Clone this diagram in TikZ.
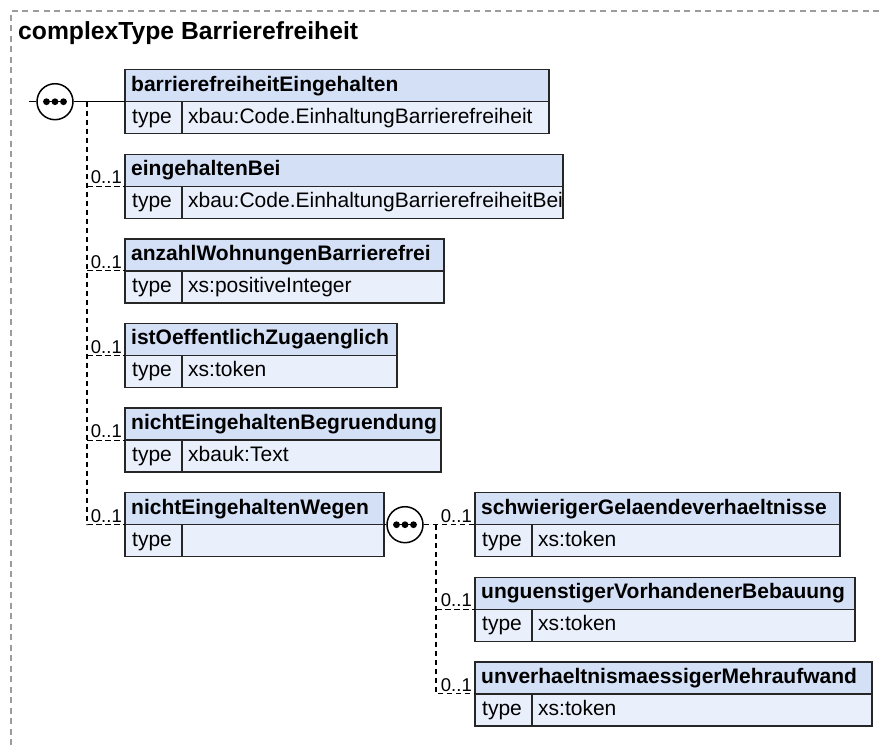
\documentclass[tikz,border=0pt]{standalone}
\usepackage{fontspec}
\setmainfont{Liberation Sans}
\definecolor{hdrblue}{HTML}{D4E0F6}
\definecolor{typeblue}{HTML}{EAF0FB}
\definecolor{edgecol}{HTML}{262626}
\definecolor{framegray}{HTML}{9C9C9C}
\newcommand{\elembox}[6]{%
  \node[hdrbox, minimum width=#4pt] (#1) at (#2,#3) {};
  \node[hdrtext] (#1-h) at ([xshift=6pt]#1.west) {#5};
  \node[typebox, minimum width=57pt] (#1-k) at (#1.south west) {};
  \node[valtext] (#1-kt) at ([xshift=7pt]#1-k.west) {type};
  \node[typebox, minimum width=#4pt-57pt] (#1-v) at (#1-k.north east) {};
  \node[valtext] (#1-vt) at ([xshift=6pt]#1-v.west) {#6};
}
\newcommand{\seqdots}[1]{%
  \draw[line width=1.3pt] ([xshift=-12pt]#1.center) -- ([xshift=12pt]#1.center);
  \foreach \dx in {-8.5,0,8.5} \fill ([xshift=\dx pt]#1.center) circle (3.4pt);
}
\begin{document}
\begin{tikzpicture}[x=1pt,y=-1pt,
  cellbox/.style={draw=edgecol, line width=1.4pt, inner sep=0pt, outer sep=0pt, anchor=north west},
  hdrbox/.style={cellbox, fill=hdrblue, minimum height=32pt},
  typebox/.style={cellbox, fill=typeblue, minimum height=32pt},
  hdrtext/.style={anchor=west, inner sep=0pt, text height=15pt, text depth=4.4pt, font=\fontsize{21}{25}\selectfont\bfseries},
  valtext/.style={anchor=west, inner sep=0pt, text height=15pt, text depth=4.4pt, font=\fontsize{21}{25}\selectfont},
  occ/.style={anchor=south east, inner sep=0pt, font=\fontsize{18.5}{22}\selectfont},
  solidcon/.style={draw=black, line width=1.3pt},
  optcon/.style={draw=black, line width=1.1pt, dash pattern=on 5.5pt off 3.5pt},
  seqbox/.style={circle, draw=black, fill=white, line width=1.5pt, minimum size=36pt, inner sep=0pt},
  framecol/.style={draw=framegray, line width=1.2pt, dash pattern=on 6pt off 4.5pt},
]
\useasboundingbox (0,0) rectangle (879,745);
\fill[white] (0,0) rectangle (879,745);
\draw[framecol] (879,11) -- (11,11) -- (11,745);
\node[anchor=west, inner sep=0pt, font=\fontsize{24.7}{28}\selectfont\bfseries] (title) at (18,33) {complexType Barrierefreiheit};

\elembox{b1}{125}{69.7}{424}{barrierefreiheitEingehalten}{xbau:Code.EinhaltungBarrierefreiheit}
\elembox{b2}{125}{154.3}{438}{eingehaltenBei}{xbau:Code.EinhaltungBarrierefreiheitBei}
\elembox{b3}{125}{238.9}{319}{anzahlWohnungenBarrierefrei}{xs:positiveInteger}
\elembox{b4}{125}{323.5}{272}{istOeffentlichZugaenglich}{xs:token}
\elembox{b5}{125}{408.1}{316}{nichtEingehaltenBegruendung}{xbauk:Text}
\elembox{b6}{125}{492.7}{259}{nichtEingehaltenWegen}{}
\elembox{b7}{475}{492.7}{365}{schwierigerGelaendeverhaeltnisse}{xs:token}
\elembox{b8}{475}{577.3}{380}{unguenstigerVorhandenerBebauung}{xs:token}
\elembox{b9}{475}{661.9}{397}{unverhaeltnismaessigerMehraufwand}{xs:token}

% main sequence
\node[seqbox] (s1) at ([xshift=-70pt]b1.south west) {};
\seqdots{s1}
\coordinate (s1in) at ([xshift=-26pt]s1.center);
\draw[solidcon] (s1in) -- (s1.west);
\draw[solidcon] (s1.east) -- (b1.south west);
\coordinate (v1top) at ([xshift=-38pt]b1.south west);
\draw[optcon] (v1top) |- (b6.south west);
\foreach \b in {b2,b3,b4,b5} \draw[optcon] (v1top |- \b.south west) -- (\b.south west);
\foreach \b in {b2,b3,b4,b5,b6} \node[occ] at ([xshift=-3pt,yshift=2pt]\b.south west) {0..1};

% nested sequence
\node[seqbox] (s2) at ([xshift=21pt]b6.south east) {};
\seqdots{s2}
\draw[solidcon] (b6.south east) -- (s2.west);
\coordinate (v2top) at ([xshift=-39pt]b7.south west);
\draw[optcon] (s2.east) -- (b7.south west);
\draw[optcon] (v2top) |- (b9.south west);
\draw[optcon] (v2top |- b8.south west) -- (b8.south west);
\foreach \b in {b7,b8,b9} \node[occ] at ([xshift=-3pt,yshift=2pt]\b.south west) {0..1};
\end{tikzpicture}
\end{document}
